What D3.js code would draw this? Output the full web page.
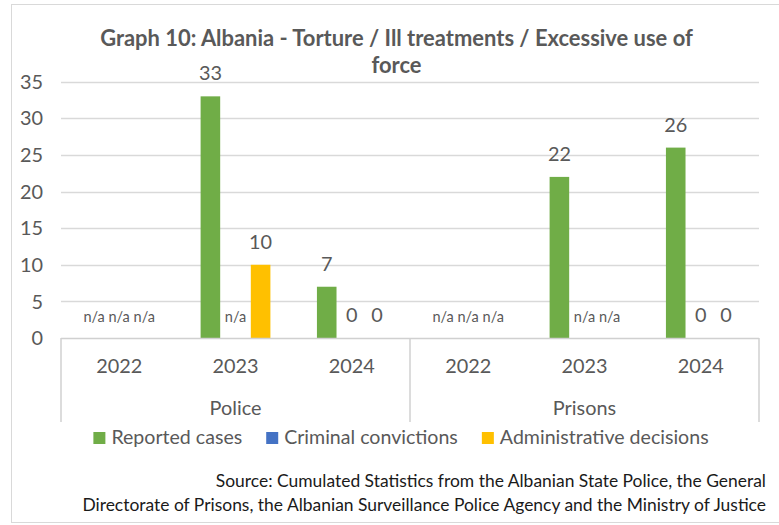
<!DOCTYPE html>
<html>
<head>
<meta charset="utf-8">
<script src="https://cdn.jsdelivr.net/npm/d3@7"></script>
<style>
  body{margin:0;background:#fff;}
  svg text{font-family:Lato,"Open Sans",sans-serif;}
</style>
</head>
<body>
<div id="content"></div>
<script>
(function(){

  //////////////////////////////////////////////////////////////
  //////////////////////// data ////////////////////////////////
  //////////////////////////////////////////////////////////////
  var groups=["Police","Prisons"];
  var years=["2022","2023","2024"];
  var seriesNames=["Reported cases","Criminal convictions","Administrative decisions"];
  var seriesColors=["#70AD47","#4472C4","#FFC000"];
  // one value per group/year (Police 2022..2024, Prisons 2022..2024), null = n/a
  var reported=[null,33,7,null,22,26];
  var convictions=[null,null,0,null,null,0];
  var decisions=[null,10,0,null,null,0];
  var yTicks=[0,5,10,15,20,25,30,35];
  var titleLines=["Graph 10: Albania - Torture / Ill treatments / Excessive use of","force"];
  var sourceLines=["Source: Cumulated Statistics from the Albanian State Police, the General",
                   "Directorate of Prisons, the Albanian Surveillance Police Agency and the Ministry of Justice"];

  var width=779,height=525;
  var plot={left:61,right:759,top:81.7,bottom:338};
  var textGrey="#595959",lineGrey="#D9D9D9";

  var svg=d3.select("#content")
      .append("svg")
      .attr("width",width)
      .attr("height",height);

  // the original uses Calibri; scale the fallback font so line widths match
  function measure(str,size,weight){
    var t=svg.append("text").style("font-size",size+"px").style("font-weight",weight||"normal").text(str);
    var w=t.node().getComputedTextLength();
    t.remove();
    return w;
  }
  var k=684/measure(sourceLines[1],18);
  var kb=593/measure(titleLines[0],21,"bold");
  function fs(px){return (px*k).toFixed(2)+"px";}

  // chart border
  svg.append("rect")
      .attr("x",11.5).attr("y",4.5)
      .attr("width",800).attr("height",518)
      .style("fill","none")
      .style("stroke",lineGrey);

  //////////////////////////////////////////////////////////////
  //////////////////////// scales //////////////////////////////
  //////////////////////////////////////////////////////////////
  var cells=[];
  groups.forEach(function(g,gi){
    years.forEach(function(yr,yi){
      var i=gi*years.length+yi;
      cells.push({index:i,group:g,year:yr,values:[reported[i],convictions[i],decisions[i]]});
    });
  });

  var y=d3.scaleLinear().domain([0,35]).range([plot.bottom,plot.top]);
  var x0=d3.scaleBand()
      .domain(cells.map(function(d){return d.index;}))
      .range([plot.left,plot.right])
      .paddingInner(0.4)
      .paddingOuter(0.2);
  var x1=d3.scaleBand()
      .domain(d3.range(seriesNames.length))
      .range([0,x0.bandwidth()])
      .paddingInner(0.22);
  var xg=d3.scaleBand().domain(groups).range([plot.left,plot.right]);

  // gridlines + y labels
  svg.append("g").selectAll("line")
      .data(yTicks.filter(function(v){return v>0;}))
    .enter().append("line")
      .attr("x1",plot.left).attr("x2",plot.right)
      .attr("y1",function(d){return Math.round(y(d))+0.5;})
      .attr("y2",function(d){return Math.round(y(d))+0.5;})
      .style("stroke",lineGrey)
      .style("stroke-width","1.5px");

  svg.append("g").selectAll("text")
      .data(yTicks)
    .enter().append("text")
      .attr("x",43)
      .attr("y",function(d){return y(d);})
      .attr("dy","0.36em")
      .attr("text-anchor","end")
      .style("font-size",fs(20.5))
      .style("fill",textGrey)
      .text(function(d){return d;});

  //////////////////////////////////////////////////////////////
  //////////////////////// bars ////////////////////////////////
  //////////////////////////////////////////////////////////////
  var cell=svg.append("g").selectAll("g")
      .data(cells)
    .enter().append("g")
      .attr("transform",function(d){return "translate("+x0(d.index)+",0)";});

  var marks=cell.selectAll("g")
      .data(function(d){return d.values.map(function(v,s){return {s:s,v:v};});})
    .enter().append("g");

  marks.filter(function(d){return d.v!==null && d.v>0;})
    .append("rect")
      .attr("x",function(d){return x1(d.s);})
      .attr("width",x1.bandwidth())
      .attr("y",function(d){return y(d.v);})
      .attr("height",function(d){return y(0)-y(d.v);})
      .style("fill",function(d){return seriesColors[d.s];});

  marks.append("text")
      .attr("x",function(d){return x1(d.s)+x1.bandwidth()/2;})
      .attr("y",function(d){return y(d.v===null?0:d.v)-16;})
      .attr("text-anchor","middle")
      .style("font-size",function(d){return d.v===null?fs(15):fs(20.5);})
      .style("fill",textGrey)
      .text(function(d){return d.v===null?"n/a":d.v;});

  //////////////////////////////////////////////////////////////
  //////////////////////// category axis ///////////////////////
  //////////////////////////////////////////////////////////////
  var axis=svg.append("g").style("stroke","#D0D0D0").style("stroke-width","1.5px");
  axis.append("line")
      .attr("x1",plot.left).attr("x2",plot.right)
      .attr("y1",plot.bottom+0.5).attr("y2",plot.bottom+0.5);
  axis.selectAll(".sep")
      .data([plot.left].concat(groups.map(function(g){return xg(g)+xg.bandwidth();})))
    .enter().append("line")
      .attr("class","sep")
      .attr("x1",function(d){return d;}).attr("x2",function(d){return d;})
      .attr("y1",plot.bottom).attr("y2",422);

  svg.append("g").selectAll("text")
      .data(cells)
    .enter().append("text")
      .attr("x",function(d){return x0(d.index)+x0.bandwidth()/2;})
      .attr("y",372.7)
      .attr("text-anchor","middle")
      .style("font-size",fs(20.5))
      .style("fill",textGrey)
      .text(function(d){return d.year;});

  svg.append("g").selectAll("text")
      .data(groups)
    .enter().append("text")
      .attr("x",function(d){return xg(d)+xg.bandwidth()/2;})
      .attr("y",415)
      .attr("text-anchor","middle")
      .style("font-size",fs(20.5))
      .style("fill",textGrey)
      .text(function(d){return d;});

  //////////////////////////////////////////////////////////////
  //////////////////////// title, legend, source ///////////////
  //////////////////////////////////////////////////////////////
  svg.append("g").selectAll("text")
      .data(titleLines)
    .enter().append("text")
      .attr("x",396.5)
      .attr("y",function(d,i){return 46+i*27.3;})
      .attr("text-anchor","middle")
      .style("font-size",(21*kb).toFixed(2)+"px")
      .style("font-weight","bold")
      .style("fill",textGrey)
      .text(function(d){return d;});

  var legend=svg.append("g");
  var lx=0,gap=24;
  var items=legend.selectAll("g")
      .data(seriesNames)
    .enter().append("g");
  items.append("rect")
      .attr("y",432).attr("width",12).attr("height",12)
      .style("fill",function(d,i){return seriesColors[i];});
  items.append("text")
      .attr("x",18).attr("y",444)
      .style("font-size",fs(20.2))
      .style("fill",textGrey)
      .text(function(d){return d;});
  items.attr("transform",function(){
    var w=d3.select(this).select("text").node().getComputedTextLength();
    var t="translate("+lx+",0)";
    lx+=18+w+gap;
    return t;
  });
  lx-=gap;
  legend.attr("transform","translate("+(401-lx/2)+",0)");

  svg.append("g").selectAll("text")
      .data(sourceLines)
    .enter().append("text")
      .attr("x",766)
      .attr("y",function(d,i){return 486.7+i*24;})
      .attr("text-anchor","end")
      .style("font-size",fs(18))
      .style("fill","#1a1a1a")
      .text(function(d){return d;});

})();
</script>
</body>
</html>
